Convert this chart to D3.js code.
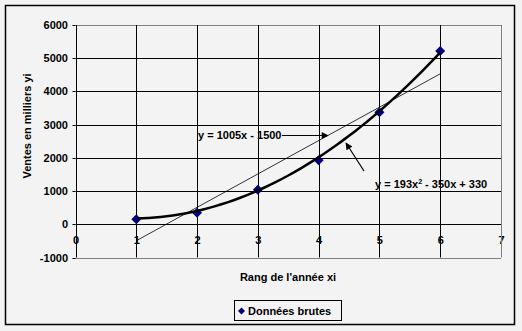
<!DOCTYPE html>
<html>
<head>
<meta charset="utf-8">
<script src="https://cdn.jsdelivr.net/npm/d3@7"></script>
<style>
  body { margin: 0; background: #f3f3f3; }
  svg { display: block; font-family: "Liberation Sans", Arial, sans-serif; font-weight: bold; }
</style>
</head>
<body>
<div id="chart"></div>
<script>
// data
const rangs = [1, 2, 3, 4, 5, 6];
const ventes = [150, 350, 1040, 1930, 3370, 5220];
const xTicks = [0, 1, 2, 3, 4, 5, 6, 7];
const yTicks = [-1000, 0, 1000, 2000, 3000, 4000, 5000, 6000];
// trend line coefficients as printed on the chart
const linCoef = [1005, -1500];      // a x + b
const polyCoef = [193, -350, 330];  // a x² + b x + c

const width = 522, height = 331;

const svg = d3.select('#chart')
  .append('svg')
  .attr('width', width)
  .attr('height', height);

const x = d3.scaleLinear().domain([0, 7]).range([75.5, 501]);
const y = d3.scaleLinear().domain([-1000, 6000]).range([257.5, 25]);

// square diamond, like the Excel marker
const diamondPath = (r) => `M0,${-r}L${r},0L0,${r}L${-r},0Z`;

// outer frame
svg.append('rect')
  .attr('x', 5.5).attr('y', 5.5)
  .attr('width', 509).attr('height', 319)
  .attr('fill', '#f3f3f3')
  .attr('stroke', 'black')
  .attr('stroke-width', 1.5);

const defs = svg.append('defs');
defs.append('marker')
  .attr('id', 'arrow')
  .attr('viewBox', '0 0 10 10')
  .attr('refX', 9).attr('refY', 5)
  .attr('markerWidth', 9).attr('markerHeight', 7)
  .attr('markerUnits', 'userSpaceOnUse')
  .attr('orient', 'auto')
  .append('path')
  .attr('d', 'M0,0 L10,5 L0,10 Z')
  .attr('fill', 'black');

// x labels (sit under the 0 line, gridlines run through them)
svg.append('g')
  .selectAll('text')
  .data(xTicks)
  .enter()
  .append('text')
  .attr('x', (d) => x(d) + 0.5)
  .attr('y', y(0) + 20)
  .attr('text-anchor', 'middle')
  .attr('font-size', 11)
  .text((d) => d);

// grid
const grid = svg.append('g');
grid.selectAll('line.h')
  .data(yTicks)
  .enter()
  .append('line')
  .attr('x1', x(0)).attr('x2', x(7))
  .attr('y1', (d) => Math.round(y(d)) + 0.5)
  .attr('y2', (d) => Math.round(y(d)) + 0.5)
  .attr('stroke', (d) => (d === 6000 || d === -1000 ? '#808080' : 'black'))
  .attr('stroke-width', 1);

grid.selectAll('line.v')
  .data(xTicks)
  .enter()
  .append('line')
  .attr('x1', (d) => Math.round(x(d)) + 0.5)
  .attr('x2', (d) => Math.round(x(d)) + 0.5)
  .attr('y1', y(6000)).attr('y2', y(-1000))
  .attr('stroke', (d) => (d === 7 ? '#808080' : 'black'))
  .attr('stroke-width', 1);

// y ticks and labels
svg.append('g')
  .selectAll('line')
  .data(yTicks)
  .enter()
  .append('line')
  .attr('x1', x(0) - 3).attr('x2', x(0))
  .attr('y1', (d) => Math.round(y(d)) + 0.5)
  .attr('y2', (d) => Math.round(y(d)) + 0.5)
  .attr('stroke', 'black');

svg.append('g')
  .selectAll('text')
  .data(yTicks)
  .enter()
  .append('text')
  .attr('x', 68)
  .attr('y', (d) => y(d) + 4)
  .attr('text-anchor', 'end')
  .attr('font-size', 11)
  .text((d) => d);

// markers
svg.append('g')
  .selectAll('path')
  .data(rangs)
  .enter()
  .append('path')
  .attr('d', diamondPath(5))
  .attr('transform', (d, i) => `translate(${x(d)},${y(ventes[i])})`)
  .attr('fill', '#000080');

// linear trend line
const lin = (v) => linCoef[0] * v + linCoef[1];
svg.append('line')
  .attr('x1', x(1)).attr('y1', y(lin(1)))
  .attr('x2', x(6)).attr('y2', y(lin(6)))
  .attr('stroke', 'black')
  .attr('stroke-width', 0.8);

// polynomial trend line
const poly = (v) => polyCoef[0] * v * v + polyCoef[1] * v + polyCoef[2];
const polyPts = d3.range(1, 6.001, 0.1).map((v) => [v, poly(v)]);
svg.append('path')
  .datum(polyPts)
  .attr('d', d3.line().x((d) => x(d[0])).y((d) => y(d[1])))
  .attr('fill', 'none')
  .attr('stroke', 'black')
  .attr('stroke-width', 2.5);

// annotations
svg.append('text')
  .attr('x', 198).attr('y', 139)
  .attr('font-size', 11)
  .text('y = 1005x - 1500');
svg.append('line')
  .attr('x1', 282).attr('y1', 135.5)
  .attr('x2', 328).attr('y2', 135.5)
  .attr('stroke', 'black')
  .attr('stroke-width', 1.2)
  .attr('marker-end', 'url(#arrow)');

const eq2 = svg.append('text')
  .attr('x', 375).attr('y', 188)
  .attr('font-size', 11);
eq2.append('tspan').text('y = 193x');
eq2.append('tspan').attr('font-size', 7).attr('dy', -4).text('2');
eq2.append('tspan').attr('dy', 4).text(' - 350x + 330');
svg.append('line')
  .attr('x1', 364).attr('y1', 171)
  .attr('x2', 346).attr('y2', 143)
  .attr('stroke', 'black')
  .attr('stroke-width', 1.2)
  .attr('marker-end', 'url(#arrow)');

// axis titles
svg.append('text')
  .attr('x', 288).attr('y', 281)
  .attr('text-anchor', 'middle')
  .attr('font-size', 11)
  .text("Rang de l'année xi");
svg.append('text')
  .attr('transform', 'translate(31,126) rotate(-90)')
  .attr('text-anchor', 'middle')
  .attr('font-size', 11)
  .text('Ventes en milliers yi');

// legend
const lg = svg.append('g');
lg.append('rect')
  .attr('x', 234.5).attr('y', 300.5)
  .attr('width', 107).attr('height', 20)
  .attr('fill', '#f3f3f3')
  .attr('stroke', 'black');
lg.append('path')
  .attr('d', diamondPath(3.5))
  .attr('transform', 'translate(241.5,311)')
  .attr('fill', '#000080');
lg.append('text')
  .attr('x', 248).attr('y', 315)
  .attr('font-size', 11)
  .text('Données brutes');
</script>
</body>
</html>
